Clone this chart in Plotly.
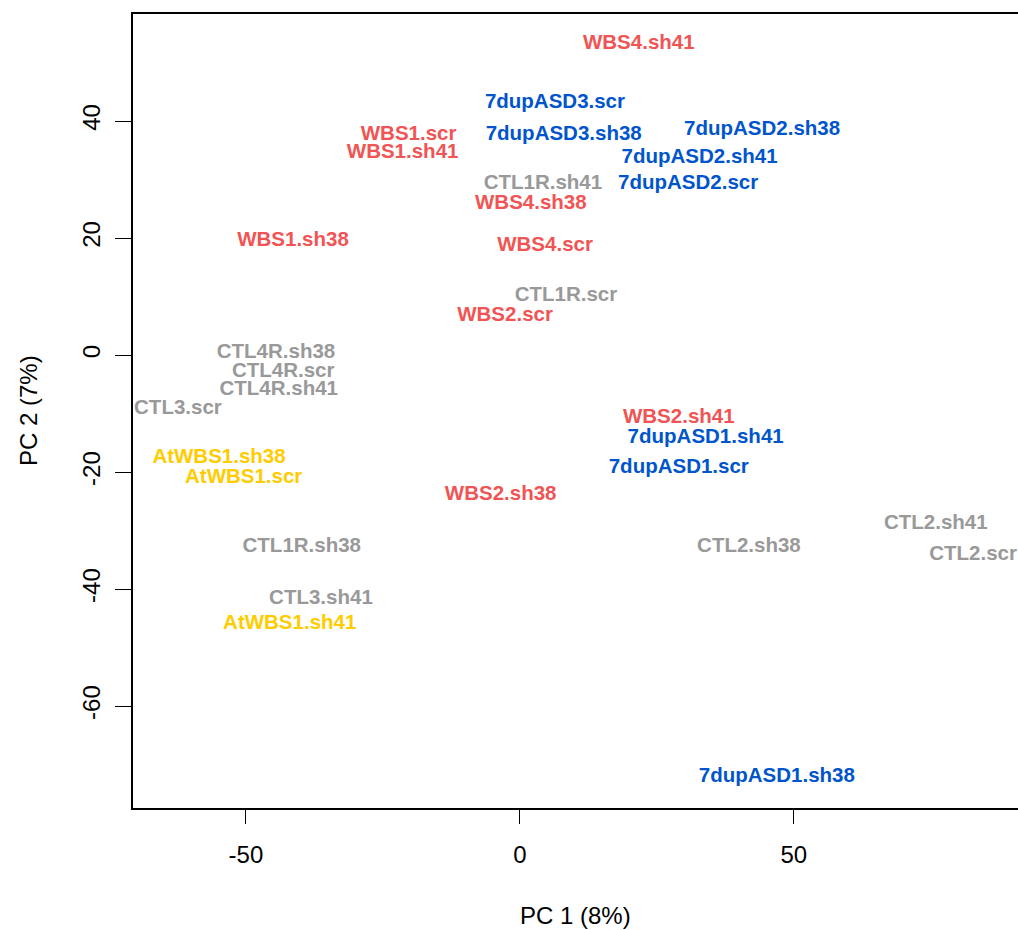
import plotly.graph_objects as go

# Sample labels and PCA coordinates
labels = [
    "WBS4.sh41", "7dupASD3.scr", "7dupASD3.sh38", "7dupASD2.sh38", "WBS1.scr",
    "WBS1.sh41", "7dupASD2.sh41", "CTL1R.sh41", "7dupASD2.scr", "WBS4.sh38",
    "WBS1.sh38", "WBS4.scr", "CTL1R.scr", "WBS2.scr", "CTL4R.sh38",
    "CTL4R.scr", "CTL4R.sh41", "CTL3.scr", "WBS2.sh41", "7dupASD1.sh41",
    "AtWBS1.sh38", "7dupASD1.scr", "AtWBS1.scr", "WBS2.sh38", "CTL2.sh41",
    "CTL1R.sh38", "CTL2.sh38", "CTL2.scr", "CTL3.sh41", "AtWBS1.sh41",
    "7dupASD1.sh38",
]
pc1 = [
    21.7, 6.4, 8.0, 44.2, -20.3,
    -21.4, 32.8, 4.2, 30.7, 2.0,
    -41.4, 4.6, 8.4, -2.7, -44.5,
    -43.2, -44.0, -62.4, 29.0, 33.9,
    -54.9, 29.0, -50.4, -3.5, 75.9,
    -39.8, 41.8, 82.7, -36.3, -42.0,
    46.9,
]
pc2 = [
    53.2, 43.1, 37.6, 38.5, 37.6,
    34.5, 33.7, 29.2, 29.2, 25.8,
    19.5, 18.6, 10.1, 6.7, 0.3,
    -2.9, -6.0, -9.2, -10.8, -14.2,
    -17.6, -19.3, -20.9, -23.8, -28.9,
    -32.8, -32.8, -34.2, -41.7, -46.0,
    -72.0,
]

groups = ["AtWBS", "WBS", "7dupASD", "CTL"]
group_colors = {"WBS": "#F05454", "7dupASD": "#0055CC", "CTL": "#999999", "AtWBS": "#FFCC00"}


def group_of(name):
    for g in groups:
        if name.startswith(g):
            return g
    return "CTL"


FONT = "Liberation Sans, Arial, Helvetica, sans-serif"

fig = go.Figure()
for g in ["CTL", "WBS", "7dupASD", "AtWBS"]:
    idx = [i for i, n in enumerate(labels) if group_of(n) == g]
    fig.add_trace(go.Scatter(
        x=[pc1[i] for i in idx],
        y=[pc2[i] for i in idx],
        text=[labels[i] for i in idx],
        mode="text",
        textposition="middle center",
        textfont=dict(family=FONT, size=20.5, color=group_colors[g], weight="bold"),
        showlegend=False,
        hoverinfo="text",
        cliponaxis=False,
    ))

fig.update_layout(
    width=1018,
    height=930,
    margin=dict(l=133, r=0, t=14, b=122),
    paper_bgcolor="white",
    plot_bgcolor="white",
    font=dict(family=FONT, size=24, color="black"),
    xaxis=dict(
        range=[-70.6, 90.9],
        tickvals=[-50, 0, 50],
        ticktext=["-50", "0", "50"],
        ticks="outside",
        ticklen=14,
        tickwidth=1.3,
        tickcolor="black",
        showline=True,
        mirror=True,
        linecolor="black",
        linewidth=1.5,
        showgrid=False,
        zeroline=False,
        ticklabelstandoff=10,
        tickfont=dict(size=24),
    ),
    yaxis=dict(
        range=[-77.4, 58.3],
        tickvals=[-60, -40, -20, 0, 20, 40],
        ticktext=["-60", "-40", "-20", "0", "20", "40"],
        ticks="outside",
        ticklen=16,
        tickwidth=1.3,
        tickcolor="black",
        tickangle=-90,
        showline=True,
        mirror=False,
        linecolor="black",
        linewidth=1.5,
        showgrid=False,
        zeroline=False,
        ticklabelstandoff=6,
        tickfont=dict(size=24),
    ),
    annotations=[
        dict(text="PC 1 (8%)", x=0.5, y=-0.1348, xref="paper", yref="paper",
             xanchor="center", yanchor="middle", showarrow=False,
             font=dict(family=FONT, size=24, color="black")),
        dict(text="PC 2 (7%)", x=-0.1186, y=0.5, xref="paper", yref="paper",
             xanchor="center", yanchor="middle", showarrow=False, textangle=-90,
             font=dict(family=FONT, size=24, color="black")),
    ],
)

post = ("document.body.style.margin='0';document.body.style.padding='0';"
        "document.documentElement.style.overflow='hidden';")
fig.write_html("out.html", post_script=post, config={"displayModeBar": False})
